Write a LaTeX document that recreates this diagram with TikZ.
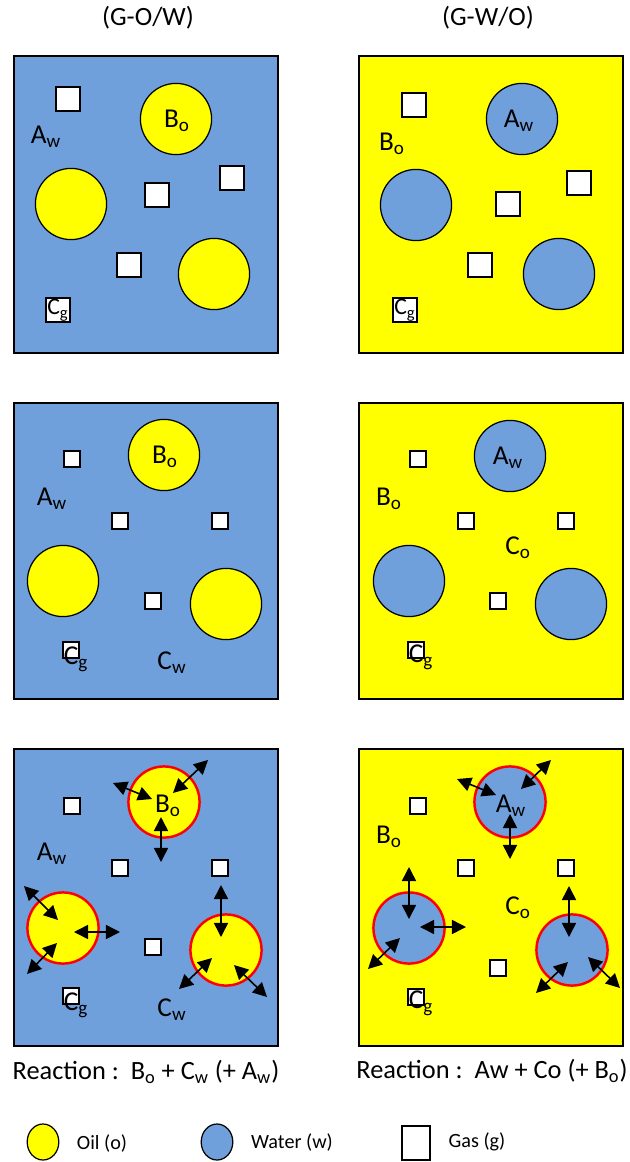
\documentclass[tikz,border=0pt]{standalone}
\usepackage{fontspec}
\setmainfont{Carlito}
\usetikzlibrary{arrows.meta,calc,shapes.geometric}
\definecolor{Wc}{HTML}{70A0DB}
\definecolor{Oc}{HTML}{FFFF00}
\definecolor{Rim}{HTML}{FF0000}
\tikzset{
  panel/.style={draw=black, line width=1.1pt},
  oil/.style={circle, draw=black, line width=0.7pt, fill=Oc, minimum size=40.5pt, inner sep=0pt},
  wat/.style={circle, draw=black, line width=0.7pt, fill=Wc, minimum size=40.5pt, inner sep=0pt},
  hot/.style={draw=Rim, line width=1.4pt},
  gas/.style={rectangle, draw=black, line width=0.7pt, fill=white, minimum size=13.6pt, inner sep=0pt},
  gasS/.style={gas, minimum size=9.1pt},
  lbl/.style={inner sep=0pt, font=\fontsize{15.5}{18}\selectfont},
  ttl/.style={inner sep=0pt, font=\fontsize{15}{18}\selectfont},
  leg/.style={inner sep=0pt, font=\fontsize{11.5}{14}\selectfont},
  flux/.style={{Triangle[length=8pt,width=8pt]}-{Triangle[length=8pt,width=8pt]}, line width=0.9pt},
}
\newcommand{\flux}[3]{\draw[flux] ($(#1)+(#2)$) -- ($(#1)+(#3)$);}
\newcommand{\sub}[1]{\textsubscript{#1}}

\begin{document}
\begin{tikzpicture}[x=0.02cm, y=-0.02cm]
  \useasboundingbox (0,0) rectangle (629,1162);
  % titles
  \node[ttl] (tl) at (148,18) {(G-O/W)};
  \node[ttl] (tr) at (488,18) {(G-W/O)};
  % row 1
  \draw[panel, fill=Wc] (14,56) rectangle (278,353);
  \node[gas] (a1) at (68,99) {};
  \node[oil] (a2) at (176,119) {};
  \node[lbl] (a3) at (177,121) {B\sub{o}};
  \node[lbl] (a4) at (46,137) {A\sub{w}};
  \node[oil] (a5) at (71,204) {};
  \node[gas] (a6) at (157,195) {};
  \node[gas] (a7) at (232,178) {};
  \node[gas] (a8) at (129,265) {};
  \node[oil] (a9) at (214,274) {};
  \node[gas, font=\fontsize{13.5}{15}\selectfont] (a10) at (58,310) {C\sub{g}};
  \draw[panel, fill=Oc] (359,56) rectangle (623,353);
  \node[gas] (b1) at (414,105) {};
  \node[wat] (b2) at (522,119) {};
  \node[lbl] (b3) at (519,121) {A\sub{w}};
  \node[lbl] (b4) at (392,144) {B\sub{o}};
  \node[wat] (b5) at (416,205) {};
  \node[gas] (b6) at (508,204) {};
  \node[gas] (b7) at (579,183) {};
  \node[gas] (b8) at (480,265) {};
  \node[wat] (b9) at (559,274) {};
  \node[gas, font=\fontsize{13.5}{15}\selectfont] (b10) at (405,310) {C\sub{g}};
  % row 2
  \draw[panel, fill=Wc] (14,403) rectangle (278,699);
  \node[gasS] (c1) at (72,459) {};
  \node[oil] (c2) at (164,455) {};
  \node[lbl] (c3) at (165,457) {B\sub{o}};
  \node[lbl] (c4) at (52,499) {A\sub{w}};
  \node[gasS] (c5) at (120,521) {};
  \node[gasS] (c6) at (220,521) {};
  \node[oil] (c7) at (63,581) {};
  \node[gasS] (c8) at (153,601) {};
  \node[oil] (c9) at (226,604) {};
  \node[gasS] (c10) at (71,650) {};
  \node[lbl] (c11) at (76,659) {C\sub{g}};
  \node[lbl] (c12) at (172,663) {C\sub{w}};
  \draw[panel, fill=Oc] (359,403) rectangle (623,699);
  \node[gasS] (d1) at (418,459) {};
  \node[wat] (d2) at (510,456) {};
  \node[lbl] (d3) at (508,458) {A\sub{w}};
  \node[lbl] (d4) at (389,499) {B\sub{o}};
  \node[gasS] (d5) at (466,521) {};
  \node[gasS] (d6) at (566,521) {};
  \node[lbl] (d7) at (518,548) {C\sub{o}};
  \node[wat] (d8) at (409,581) {};
  \node[gasS] (d9) at (498,601) {};
  \node[wat] (d10) at (571,604) {};
  \node[gasS] (d11) at (416,650) {};
  \node[lbl] (d12) at (421,657) {C\sub{g}};
  % row 3
  \draw[panel, fill=Wc] (14,749) rectangle (278,1046);
  \node[gasS] (e1) at (72,806) {};
  \node[oil, hot] (e2) at (164,802) {};
  \node[lbl] (e3) at (168,806) {B\sub{o}};
  \node[lbl] (e4) at (52,854) {A\sub{w}};
  \node[gasS] (e5) at (120,868) {};
  \node[gasS] (e6) at (220,868) {};
  \node[oil, hot] (e7) at (63,928) {};
  \node[gasS] (e8) at (153,947) {};
  \node[oil, hot] (e9) at (226,950) {};
  \node[gasS] (e10) at (71,996) {};
  \node[lbl] (e11) at (76,1005) {C\sub{g}};
  \node[lbl] (e12) at (172,1010) {C\sub{w}};
  \flux{e2}{-51,-19}{-12,-3}
  \flux{e2}{44,-42}{9,-9}
  \flux{e2}{-3,15}{-3,60}
  \flux{e7}{-39,-42}{-5,-8}
  \flux{e7}{11,4}{57,4}
  \flux{e7}{-36,46}{-6,15}
  \flux{e9}{-5,-65}{-5,-13}
  \flux{e9}{-47,39}{-14,8}
  \flux{e9}{8,15}{41,47}
  \node[ttl] (e13) at (146,1072) {Reaction :\ \ B\sub{o} + C\sub{w} (+ A\sub{w})};
  \draw[panel, fill=Oc] (359,749) rectangle (623,1046);
  \node[gasS] (f1) at (418,806) {};
  \node[wat, hot] (f2) at (510,802) {};
  \node[lbl] (f3) at (511,806) {A\sub{w}};
  \node[lbl] (f4) at (389,837) {B\sub{o}};
  \node[gasS] (f5) at (466,868) {};
  \node[gasS] (f6) at (566,868) {};
  \node[lbl] (f7) at (518,908) {C\sub{o}};
  \node[wat, hot] (f8) at (409,928) {};
  \node[gasS] (f9) at (498,968) {};
  \node[wat, hot] (f10) at (572,950) {};
  \node[gasS] (f11) at (416,997) {};
  \node[lbl] (f12) at (421,1003) {C\sub{g}};
  \flux{f2}{-53,-23}{-14,-7}
  \flux{f2}{41,-42}{11,-13}
  \flux{f2}{0,12}{0,57}
  \flux{f8}{0,-61}{0,-9}
  \flux{f8}{11,-1}{57,-1}
  \flux{f8}{-41,41}{-9,10}
  \flux{f10}{-3,-64}{-3,-13}
  \flux{f10}{-36,43}{-4,12}
  \flux{f10}{16,7}{48,38}
  \node[ttl] (f13) at (492,1071) {Reaction :\ \ Aw + Co (+ B\sub{o})};
  % legend
  \node[ellipse, draw=black, line width=0.7pt, fill=Oc, minimum width=18pt, minimum height=20.5pt, inner sep=0pt] (g1) at (43,1142) {};
  \node[leg] (g2) at (102,1143) {Oil (o)};
  \node[ellipse, draw=black, line width=0.7pt, fill=Wc, minimum width=18pt, minimum height=20.5pt, inner sep=0pt] (g3) at (217,1142) {};
  \node[leg] (g4) at (292,1142) {Water (w)};
  \node[gas, minimum width=16pt, minimum height=19.4pt] (g5) at (416,1143) {};
  \node[leg] (g6) at (477,1142) {Gas (g)};
\end{tikzpicture}
\end{document}
